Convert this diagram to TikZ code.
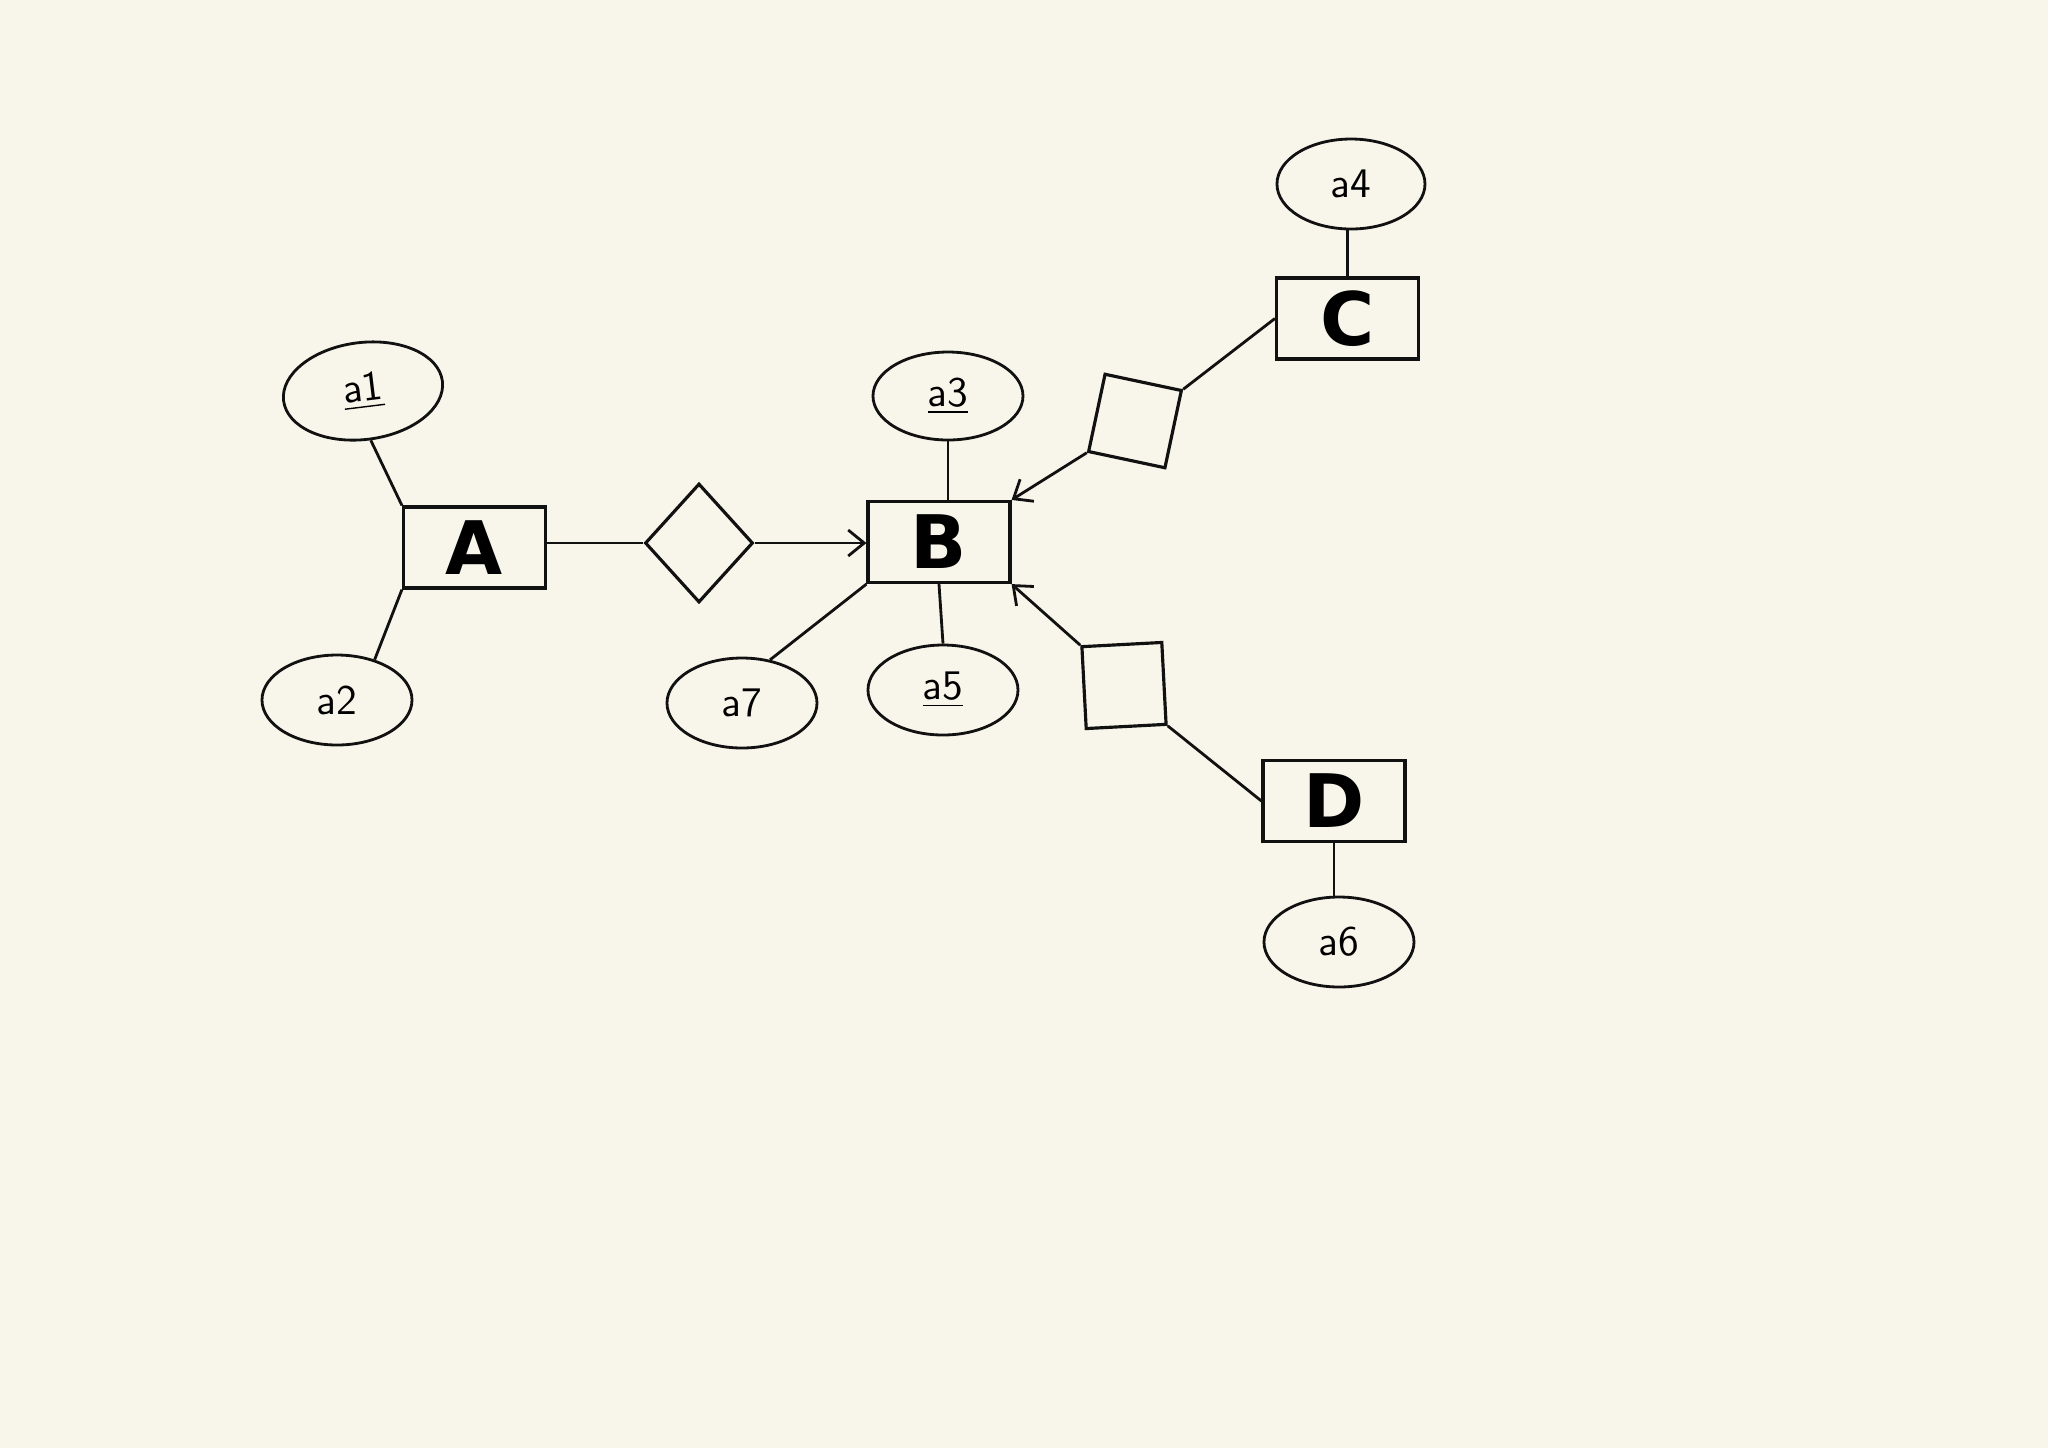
\documentclass[tikz,border=0pt]{standalone}
\usepackage{fontspec}
\newfontfamily\entfont{DejaVu Sans}
\definecolor{erpaper}{HTML}{F8F6EB}
\definecolor{erink}{HTML}{111111}
\usetikzlibrary{arrows.meta,shapes.geometric}

\begin{document}
\begin{tikzpicture}[
  entity/.style={draw=erink,line width=0.9pt,minimum width=1.42cm,minimum height=0.81cm,
    inner sep=0pt,font=\entfont\bfseries\fontsize{21}{24}\selectfont},
  attr/.style={draw=erink,ellipse,line width=0.8pt,minimum width=1.5cm,minimum height=0.9cm,
    inner sep=0pt,font=\sffamily\fontsize{12}{14}\selectfont},
  rel/.style={draw=erink,line width=0.9pt,inner sep=0pt},
  link/.style={erink,line width=0.8pt},
  arr/.style={link,-{Straight Barb[length=1.6mm,width=2.6mm]}}]
  \useasboundingbox (0,0) rectangle (20.48,-14.48);
  \fill[erpaper] (0,0) rectangle (20.48,-14.48);
  \node[entity] (A) at (4.745,-5.475) {A};
  \node[entity] (B) at (9.39,-5.42) {B};
  \node[entity] (C) at (13.475,-3.185) {C};
  \node[entity] (D) at (13.34,-8.01) {D};
  \node[attr,minimum width=1.6cm,minimum height=0.97cm,rotate=7] (a1) at (3.63,-3.91) {\underline{a1}};
  \node[attr] (a2) at (3.37,-7.00) {a2};
  \node[attr,minimum height=0.88cm] (a3) at (9.48,-3.96) {\underline{a3}};
  \node[attr,minimum width=1.48cm] (a4) at (13.51,-1.84) {a4};
  \node[attr] (a5) at (9.43,-6.90) {\underline{a5}};
  \node[attr] (a6) at (13.39,-9.42) {a6};
  \node[attr] (a7) at (7.42,-7.03) {a7};
  \node[rel,diamond,minimum width=1.08cm,minimum height=1.19cm] (r1) at (6.99,-5.43) {};
  \node[rel,minimum width=0.78cm,minimum height=0.79cm,rotate=-12] (r2) at (11.35,-4.21) {};
  \node[rel,minimum width=0.80cm,minimum height=0.82cm,rotate=3] (r3) at (11.24,-6.855) {};
  \draw[link] (a1.-88) -- (A.north west);
  \draw[link] (A.south west) -- (a2.47);
  \draw[link] (A.east |- r1.west) -- (r1.west);
  \draw[arr] (r1.east) -- (r1.east -| B.west);
  \draw[link] (a3.south) -- (a3.south |- B.north);
  \draw[link] (B.south) -- (a5.north);
  \draw[link] (B.south west) -- (a7.57);
  \draw[link] (C.north |- a4.south) -- (C.north);
  \draw[link] (C.west) -- (r2.north east);
  \draw[arr] (r2.south west) -- (B.north east);
  \draw[arr] (r3.north west) -- (B.south east);
  \draw[link] (r3.south east) -- (D.west);
  \draw[link] (D.south) -- (D.south |- a6.north);
\end{tikzpicture}
\end{document}
